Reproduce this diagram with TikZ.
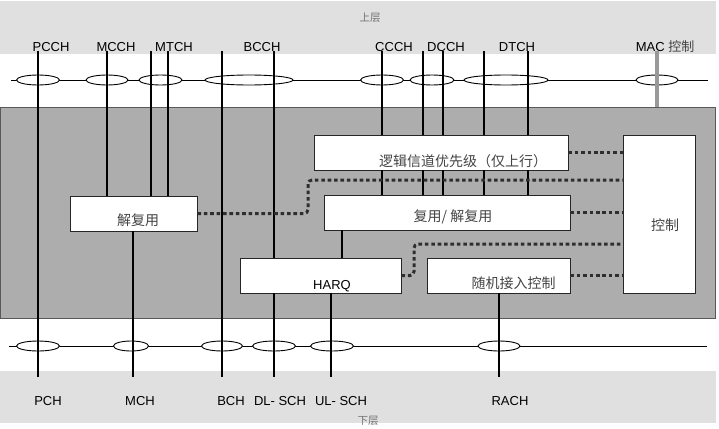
\documentclass[tikz,border=0pt]{standalone}
\usepackage{fontspec}
\setmainfont{Liberation Sans}
\newfontfamily\cjk{Noto Sans CJK SC}
\usetikzlibrary{shapes.geometric,calc}

\definecolor{bandgray}{HTML}{E0E0E0}
\definecolor{macgray}{HTML}{ADADAD}
\definecolor{dotgray}{HTML}{2E2E2E}
\definecolor{txtgray}{HTML}{444444}

\begin{document}
\begin{tikzpicture}[
    x=1pt, y=-1pt,
    band/.style={fill=bandgray, draw=none},
    sap/.style={ellipse, draw, fill=white, line width=0.9pt, minimum height=10pt, inner sep=0pt},
    box/.style={rectangle, draw=black!85, fill=white, line width=0.8pt, inner sep=0pt, minimum height=35pt},
    chan/.style={line width=2pt},
    ctl/.style={draw=dotgray, line width=3pt, dash pattern=on 3.6pt off 2.8pt, rounded corners=4pt},
    lbl/.style={font=\fontsize{13}{15}\selectfont, inner sep=0pt},
    cn/.style={font=\cjk\fontsize{14}{16}\selectfont, text=txtgray, inner sep=0pt},
    layer/.style={font=\cjk\fontsize{10.5}{12}\selectfont, text=black!55, inner sep=0pt}
]
    \useasboundingbox (0,0) rectangle (719,428);
    \fill[white] (0,0) rectangle (719,428);
    \path[band] (0,1) rectangle (716,54);
    \path[band] (0,371) rectangle (716,423);
    \node[rectangle, fill=macgray, draw=black!65, line width=0.8pt, inner sep=0pt,
          minimum width=715pt, minimum height=210.5pt] (mac) at (358,212.75) {};

    \node[layer] (upper) at (370,18) {上层};
    \node[layer] (lower) at (368,421) {下层};

    \coordinate (upL) at (11,80);
    \coordinate (upR) at (708,80);
    \coordinate (dnL) at (9,346);
    \coordinate (dnR) at (707,346);
    \draw[line width=0.7pt] (upL) -- (upR);
    \draw[line width=0.7pt] (dnL) -- (dnR);

    \node[sap, minimum width=43pt] (pcch) at (38,80) {};
    \node[sap, minimum width=42pt] (mcch) at (107,80) {};
    \node[sap, minimum width=43pt] (mtch) at (160.5,80) {};
    \node[sap, minimum width=88pt] (bcch) at (249,80) {};
    \node[sap, minimum width=43pt] (ccch) at (382,80) {};
    \node[sap, minimum width=44pt] (dcch) at (432,80) {};
    \node[sap, minimum width=84pt] (dtch) at (506,80) {};
    \node[sap, minimum width=42pt] (macc) at (657,80) {};

    \node[sap, minimum width=43pt] (pch) at (38,346) {};
    \node[sap, minimum width=35pt] (mch) at (131,346) {};
    \node[sap, minimum width=41pt] (bch) at (222,346) {};
    \node[sap, minimum width=43pt] (dlsch) at (274,346) {};
    \node[sap, minimum width=43pt] (ulsch) at (332,346) {};
    \node[sap, minimum width=42pt] (rach) at (499,346) {};

    \coordinate (up) at (0,51);
    \coordinate (dn) at (0,377);
    \coordinate (mtchA) at (151,80);
    \coordinate (mtchB) at (168,80);
    \coordinate (bcchA) at (222,80);
    \coordinate (bcchB) at (274,80);
    \coordinate (dcchA) at (423,80);
    \coordinate (dcchB) at (443,80);
    \coordinate (dtchA) at (484,80);
    \coordinate (dtchB) at (528,80);
    \coordinate (mchL) at (133,346);
    \coordinate (ulschL) at (331,346);
    \coordinate (muxL) at (342,230);

    \node[box, minimum width=127pt] (demux) at (133.5,213.5) {};
    \node[box, minimum width=254pt] (lcp) at (441,152.5) {};
    \node[box, minimum width=246pt] (mux) at (447,212.5) {};
    \node[box, minimum width=161pt] (harq) at (320.5,275.5) {};
    \node[box, minimum width=143pt] (rac) at (498.5,275.5) {};
    \node[box, minimum width=72pt, minimum height=158pt] (ctrl) at (659,214) {};

    \draw[chan] (pcch |- up) -- (pch |- dn);
    \draw[chan] (mcch |- up) -- (mcch |- demux.north);
    \draw[chan] (mtchA |- up) -- (mtchA |- demux.north);
    \draw[chan] (mtchB |- up) -- (mtchB |- demux.north);
    \draw[chan] (mchL |- demux.south) -- (mchL |- dn);
    \draw[chan] (bcchA |- up) -- (bch |- dn);
    \draw[chan] (bcchB |- up) -- (harq.north -| bcchB);
    \draw[chan] (harq.south -| dlsch) -- (dlsch |- dn);
    \draw[chan] (ulschL |- harq.south) -- (ulschL |- dn);
    \draw[chan] (ccch |- up) -- (ccch |- lcp.north);
    \draw[chan] (dcchA |- up) -- (dcchA |- lcp.north);
    \draw[chan] (dcchB |- up) -- (dcchB |- lcp.north);
    \draw[chan] (dtchA |- up) -- (dtchA |- lcp.north);
    \draw[chan] (dtchB |- up) -- (dtchB |- lcp.north);
    \draw[chan] (ccch |- lcp.south) -- (ccch |- mux.north);
    \draw[chan] (dcchA |- lcp.south) -- (dcchA |- mux.north);
    \draw[chan] (dcchB |- lcp.south) -- (dcchB |- mux.north);
    \draw[chan] (dtchA |- lcp.south) -- (dtchA |- mux.north);
    \draw[chan] (dtchB |- lcp.south) -- (dtchB |- mux.north);
    \draw[chan] (muxL |- mux.south) -- (muxL |- harq.north);
    \draw[chan] (rac.south -| rach) -- (rach |- dn);
    \draw[line width=3.2pt, black!40] (macc |- up) -- (macc |- mac.north);

    \coordinate (bendA) at (308,180);
    \coordinate (bendB) at (414,244);
    \draw[ctl] (lcp.east) -- (lcp.east -| ctrl.west);
    \draw[ctl] (mux.east) -- (mux.east -| ctrl.west);
    \draw[ctl] (rac.east) -- (rac.east -| ctrl.west);
    \draw[ctl] (demux.east) -| (bendA) -- (bendA -| ctrl.west);
    \draw[ctl] (harq.east) -| (bendB) -- (bendB -| ctrl.west);

    \node[cn] (demuxT) at ($(demux)+(4.5,6.5)$) {解复用};
    \node[cn] (lcpT) at ($(lcp)+(22,8.5)$) {逻辑信道优先级（仅上行）};
    \node[cn] (muxT) at ($(mux)+(6,4.5)$) {复用/ 解复用};
    \node[lbl] (harqT) at ($(harq)+(11.5,10.5)$) {HARQ};
    \node[cn] (racT) at ($(rac)+(15,7.5)$) {随机接入控制};
    \node[cn] (ctrlT) at ($(ctrl)+(6,11)$) {控制};

    \node[lbl] (lPCCH) at (51,47) {PCCH};
    \node[lbl] (lMCCH) at (116,47) {MCCH};
    \node[lbl] (lMTCH) at (174,47) {MTCH};
    \node[lbl] (lBCCH) at (262,47) {BCCH};
    \node[lbl] (lCCCH) at (394,47) {CCCH};
    \node[lbl] (lDCCH) at (446,47) {DCCH};
    \node[lbl] (lDTCH) at (517,47) {DTCH};
    \node[lbl] (lMAC) at (665,47) {MAC {\cjk\color{txtgray}控制}};

    \node[lbl] (lPCH) at (48,401) {PCH};
    \node[lbl] (lMCH) at (140,401) {MCH};
    \node[lbl] (lBCH) at (231,401) {BCH};
    \node[lbl] (lDLSCH) at (280,401) {DL- SCH};
    \node[lbl] (lULSCH) at (341,401) {UL- SCH};
    \node[lbl] (lRACH) at (510,401) {RACH};
\end{tikzpicture}
\end{document}
